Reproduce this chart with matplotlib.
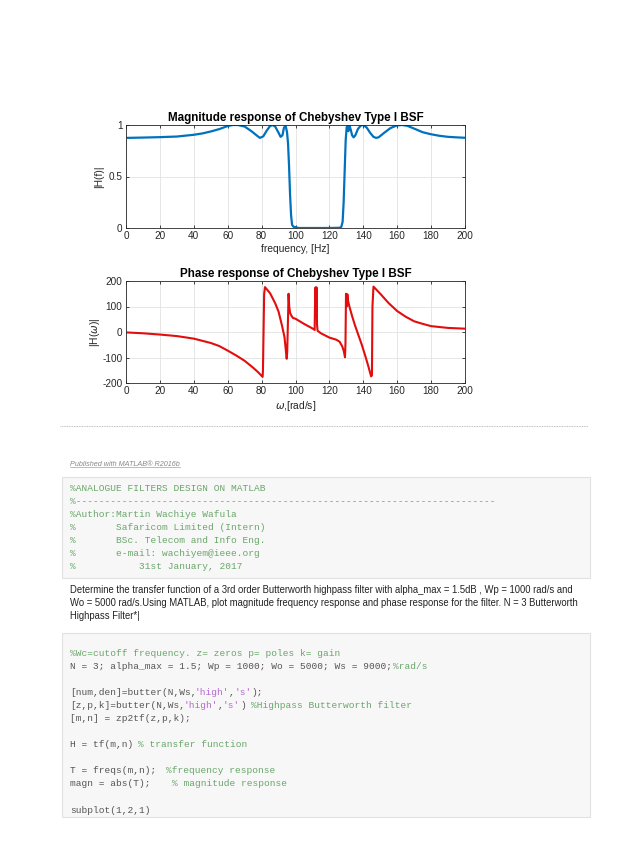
import matplotlib
matplotlib.use("Agg")
import matplotlib.pyplot as plt
from matplotlib.patches import Rectangle
from matplotlib.lines import Line2D

W, H = 638, 852

# magnitude response
mag_f = [1, 10, 20, 30, 40, 45, 50, 55, 60, 63, 66, 70, 74, 77, 79, 81, 83, 85, 86.5, 88,
         90, 91.2, 92.3, 93.2, 94.2, 95.0, 95.6, 96.2, 96.8, 97.4, 98.0, 98.8, 100, 102, 110,
         120, 126, 127, 127.8, 128.4, 129.0, 129.6, 130.2, 130.7, 131.2, 131.8, 132.5, 133.4,
         134.3, 135.3, 136.8, 138.5, 140, 142, 144, 146, 147.5, 149, 152, 156, 160, 163, 166,
         170, 175, 180, 185, 190, 195, 200]
mag_h = [0.875, 0.878, 0.882, 0.888, 0.905, 0.918, 0.937, 0.96, 0.99, 1.0, 1.0, 0.985, 0.94,
         0.9, 0.875, 0.89, 0.945, 0.99, 1.0, 0.985, 0.925, 0.885, 0.9, 0.975, 0.99, 0.93, 0.82,
         0.6, 0.32, 0.12, 0.03, 0.012, 0.008, 0.0, 0.0, 0.0, 0.002, 0.01, 0.06, 0.25, 0.55,
         0.85, 0.98, 0.99, 0.94, 0.995, 0.96, 0.9, 0.88, 0.9, 0.96, 0.995, 1.0, 0.975, 0.925,
         0.885, 0.875, 0.88, 0.92, 0.97, 0.997, 1.0, 0.992, 0.965, 0.93, 0.91, 0.895, 0.885,
         0.88, 0.876]

# phase response (degrees)
ph_f = [1, 10, 20, 30, 40, 50, 55, 60, 65, 70, 75, 78, 80.6, 80.8, 81.5, 82, 85, 88, 90, 92,
        93.5, 94.8, 95.1, 95.5, 95.9, 96.3, 96.8, 97.5, 98.5, 100, 105, 110, 111.3, 111.5,
        111.8, 112.1, 112.4, 112.7, 113, 115, 120, 124, 126, 127.5, 128.5, 129.2, 129.5,
        129.8, 130.2, 130.6, 131, 132, 133.5, 135, 137, 139, 141, 143, 144.6, 145.1, 145.4,
        146, 150, 155, 160, 165, 170, 175, 180, 190, 200]
ph_deg = [-2, -5, -10, -16, -26, -43, -55, -73, -92, -113, -140, -158, -176, -150, 150, 176,
          152, 113, 80, 26, -20, -105, -80, 30, 150, 100, 75, 65, 55, 52, 32, 14, 8, 100, 175,
          60, 175, 30, 5, -5, -22, -30, -38, -55, -75, -99, -40, 150, 100, 148, 122, 95, 60,
          28, -10, -48, -90, -135, -174, -170, 100, 178, 150, 113, 82, 60, 42, 32, 23, 16, 13]

xticks = list(range(0, 201, 20))
mag_ticks = [0, 0.5, 1]
mag_ticklabels = ["0", "0.5", "1"]
ph_ticks = [-200, -100, 0, 100, 200]

CMT = "#6aa66a"
TXT = "#555555"
STR = "#b46ad0"

box1_lines = [
    [("%ANALOGUE FILTERS DESIGN ON MATLAB", CMT)],
    [("%" + "-" * 73, CMT)],
    [("%Author:Martin Wachiye Wafula", CMT)],
    [("%       Safaricom Limited (Intern)", CMT)],
    [("%       BSc. Telecom and Info Eng.", CMT)],
    [("%       e-mail: wachiyem@ieee.org", CMT)],
    [("%           31st January, 2017", CMT)],
]

box2_lines = [
    [("%Wc=cutoff frequency. z= zeros p= poles k= gain", CMT)],
    [("N = 3; alpha_max = 1.5; Wp = 1000; Wo = 5000; Ws = 9000; ", TXT), ("%rad/s", CMT)],
    [],
    [("[num,den]=butter(N,Ws,", TXT), ("'high'", STR), (",", TXT), ("'s'", STR), (");", TXT)],
    [("[z,p,k]=butter(N,Ws,", TXT), ("'high'", STR), (",", TXT), ("'s'", STR), (") ", TXT),
     ("%Highpass Butterworth filter", CMT)],
    [("[m,n] = zp2tf(z,p,k);", TXT)],
    [],
    [("H = tf(m,n) ", TXT), ("% transfer function", CMT)],
    [],
    [("T = freqs(m,n);  ", TXT), ("%frequency response", CMT)],
    [("magn = abs(T);    ", TXT), ("% magnitude response", CMT)],
    [],
    [("subplot(1,2,1)", TXT)],
]

para_lines = [
    "Determine the transfer function of a 3rd order Butterworth highpass filter with alpha_max = 1.5dB , Wp = 1000 rad/s and",
    "Wo = 5000 rad/s.Using MATLAB, plot magnitude frequency response and phase response for the filter. N = 3 Butterworth",
    "Highpass Filter*|",
]

plt.rcParams["font.family"] = ["Liberation Sans", "DejaVu Sans"]
plt.rcParams["mathtext.fontset"] = "dejavusans"
plt.rcParams["axes.unicode_minus"] = False

fig = plt.figure(figsize=(W / 100, H / 100), dpi=100)


def fx(x):
    return x / W


def fy(y):
    return 1 - y / H


def style(ax):
    ax.set_xlim(0, 200)
    ax.set_xticks(xticks)
    ax.grid(True, color="#e2e2e2", linewidth=0.6)
    ax.set_axisbelow(True)
    for s in ax.spines.values():
        s.set_color("#262626")
        s.set_linewidth(0.6)
    ax.tick_params(direction="in", top=True, right=True, length=2.5, width=0.6,
                   labelsize=7.2, labelcolor="#262626", color="#262626", pad=2.5)


ax1 = fig.add_axes([fx(126), fy(228), (465 - 126) / W, (228 - 125) / H])
ax1.plot(mag_f, mag_h, color="#0072BD", linewidth=1.6)
style(ax1)
ax1.set_ylim(0, 1)
ax1.set_yticks(mag_ticks)
ax1.set_yticklabels(mag_ticklabels)
ax1.set_title("Magnitude response of Chebyshev Type I BSF", fontsize=8.4,
              fontweight="bold", pad=3)
ax1.set_xlabel("frequency, [Hz]", fontsize=7.4, color="#262626", labelpad=2)
ax1.set_ylabel("|H(f)|", fontsize=7.4, color="#262626", labelpad=3)

ax2 = fig.add_axes([fx(126), fy(383), (465 - 126) / W, (383 - 281) / H])
ax2.plot(ph_f, ph_deg, color="#e30d0d", linewidth=1.5)
style(ax2)
ax2.set_ylim(-200, 200)
ax2.set_yticks(ph_ticks)
ax2.set_title("Phase response of Chebyshev Type I BSF", fontsize=8.4,
              fontweight="bold", pad=3)
ax2.set_xlabel(r"$\omega$,[rad/s]", fontsize=7.4, color="#262626", labelpad=2)
ax2.set_ylabel(r"|H($\omega$)|", fontsize=7.4, color="#262626", labelpad=0)

# separator
fig.add_artist(Line2D([fx(60), fx(588)], [fy(426), fy(426)], transform=fig.transFigure,
                      color="#a8a8a8", linewidth=0.6, linestyle=(0, (1, 1))))

pub = fig.text(fx(70), fy(464), "Published with MATLAB\u00ae R2016b", fontsize=5.2,
               style="italic", color="#888888", va="center")

MONO = 6.8
CW = 0.6 * MONO * 100 / 72  # monospace char width in px


def code_box(top, bottom, first_y, lines):
    fig.add_artist(Rectangle((fx(62), fy(bottom)), (590 - 62) / W, (bottom - top) / H,
                             transform=fig.transFigure, facecolor="#f7f7f7",
                             edgecolor="#e2e2e2", linewidth=0.8))
    for i, runs in enumerate(lines):
        col = 0
        y = first_y + i * 13.1
        for text, color in runs:
            fig.text(fx(70 + col * CW), fy(y), text.rstrip(), fontsize=MONO,
                     family="Liberation Mono", color=color, va="center")
            col += len(text)


code_box(477, 578, 488, box1_lines)

for i, line in enumerate(para_lines):
    fig.text(fx(70), fy(590 + i * 13), line, fontsize=6.85, color="#222222", va="center")

code_box(633, 817, 653, box2_lines)

# underline for the "Published" link
fig.canvas.draw()
bb = pub.get_window_extent()
fig.add_artist(Line2D([bb.x0 / W, bb.x1 / W], [(bb.y0 + 0.5) / H, (bb.y0 + 0.5) / H],
                      transform=fig.transFigure, color="#888888", linewidth=0.4))

fig.savefig("out.png", dpi=100, facecolor="white")
